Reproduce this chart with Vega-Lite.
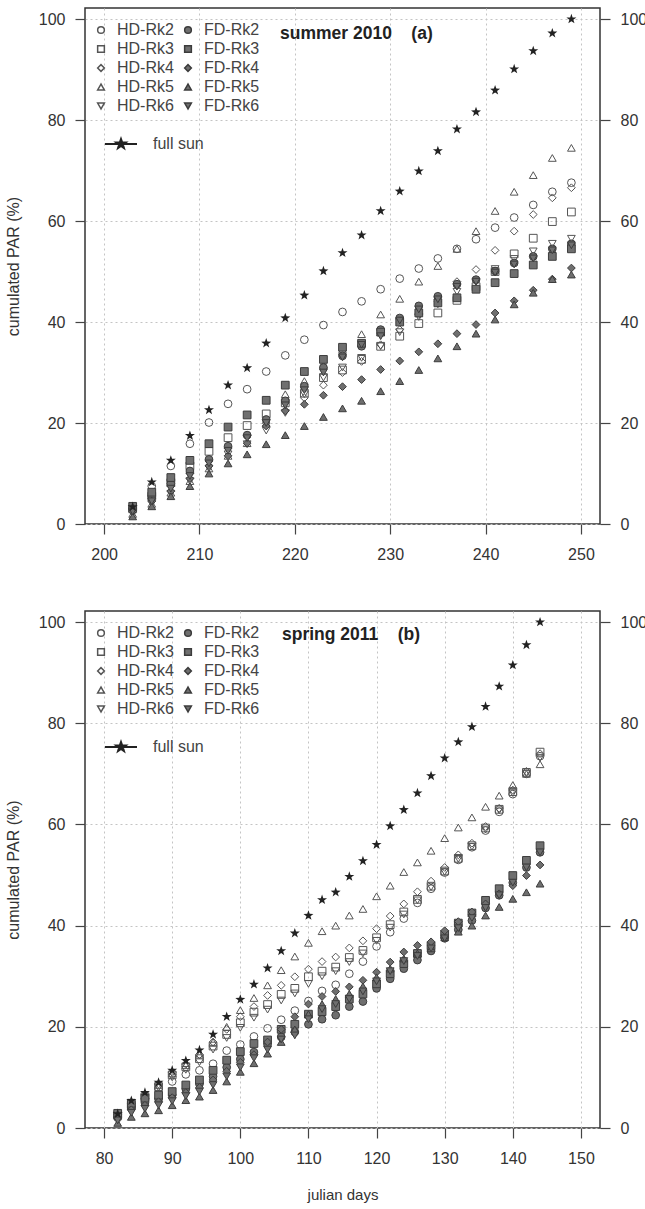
{
"$schema":"https://vega.github.io/schema/vega-lite/v6.json",
"padding":{"left":4,"top":7,"right":0,"bottom":5},
"spacing":47,
"resolve":{"scale":{"shape":"independent","fill":"independent","stroke":"independent","color":"independent"},"legend":{"shape":"independent","fill":"independent","stroke":"independent","color":"independent"}},
"config":{
"font":"Liberation Sans",
"view":{"stroke":"#333","strokeWidth":1.5},
"axis":{"domain":false,"tickColor":"#444","tickWidth":1.2,"tickSize":10,"labelPadding":10,"labelFontSize":16,"labelColor":"#333","labelFlush":false,"titleFontSize":15,"titleFontWeight":"normal","titleColor":"#333","gridColor":"#c4c4c4","gridDash":[2,3],"gridWidth":1},
"title":{"fontSize":17.5,"fontWeight":"bold","color":"#222"},
"legend":{"labelFontSize":16,"labelColor":"#444","padding":0}
},
"data":{"values":[
{"p":"a","s":"full sun","d":203,"v":3.4},{"p":"a","s":"full sun","d":205,"v":8.3},{"p":"a","s":"full sun","d":207,"v":12.6},{"p":"a","s":"full sun","d":209,"v":17.5},{"p":"a","s":"full sun","d":211,"v":22.6},{"p":"a","s":"full sun","d":213,"v":27.5},{"p":"a","s":"full sun","d":215,"v":30.9},{"p":"a","s":"full sun","d":217,"v":35.8},{"p":"a","s":"full sun","d":219,"v":40.8},{"p":"a","s":"full sun","d":221,"v":45.3},{"p":"a","s":"full sun","d":223,"v":50.1},{"p":"a","s":"full sun","d":225,"v":53.7},{"p":"a","s":"full sun","d":227,"v":57.2},{"p":"a","s":"full sun","d":229,"v":62.0},{"p":"a","s":"full sun","d":231,"v":65.9},{"p":"a","s":"full sun","d":233,"v":69.9},{"p":"a","s":"full sun","d":235,"v":73.9},{"p":"a","s":"full sun","d":237,"v":78.2},{"p":"a","s":"full sun","d":239,"v":81.6},{"p":"a","s":"full sun","d":241,"v":85.9},{"p":"a","s":"full sun","d":243,"v":90.1},{"p":"a","s":"full sun","d":245,"v":93.7},{"p":"a","s":"full sun","d":247,"v":97.2},{"p":"a","s":"full sun","d":249,"v":100},
{"p":"a","s":"HD-Rk2","d":203,"v":2.8},{"p":"a","s":"HD-Rk2","d":205,"v":7.5},{"p":"a","s":"HD-Rk2","d":207,"v":11.5},{"p":"a","s":"HD-Rk2","d":209,"v":15.9},{"p":"a","s":"HD-Rk2","d":211,"v":20.1},{"p":"a","s":"HD-Rk2","d":213,"v":23.8},{"p":"a","s":"HD-Rk2","d":215,"v":26.7},{"p":"a","s":"HD-Rk2","d":217,"v":30.2},{"p":"a","s":"HD-Rk2","d":219,"v":33.4},{"p":"a","s":"HD-Rk2","d":221,"v":36.5},{"p":"a","s":"HD-Rk2","d":223,"v":39.4},{"p":"a","s":"HD-Rk2","d":225,"v":42.0},{"p":"a","s":"HD-Rk2","d":227,"v":44.1},{"p":"a","s":"HD-Rk2","d":229,"v":46.5},{"p":"a","s":"HD-Rk2","d":231,"v":48.6},{"p":"a","s":"HD-Rk2","d":233,"v":50.6},{"p":"a","s":"HD-Rk2","d":235,"v":52.6},{"p":"a","s":"HD-Rk2","d":237,"v":54.5},{"p":"a","s":"HD-Rk2","d":239,"v":56.4},{"p":"a","s":"HD-Rk2","d":241,"v":58.7},{"p":"a","s":"HD-Rk2","d":243,"v":60.7},{"p":"a","s":"HD-Rk2","d":245,"v":63.2},{"p":"a","s":"HD-Rk2","d":247,"v":65.8},{"p":"a","s":"HD-Rk2","d":249,"v":67.6},
{"p":"a","s":"HD-Rk3","d":203,"v":3.0},{"p":"a","s":"HD-Rk3","d":205,"v":5.5},{"p":"a","s":"HD-Rk3","d":207,"v":8.2},{"p":"a","s":"HD-Rk3","d":209,"v":11.5},{"p":"a","s":"HD-Rk3","d":211,"v":14.4},{"p":"a","s":"HD-Rk3","d":213,"v":17.1},{"p":"a","s":"HD-Rk3","d":215,"v":19.5},{"p":"a","s":"HD-Rk3","d":217,"v":21.8},{"p":"a","s":"HD-Rk3","d":219,"v":24.0},{"p":"a","s":"HD-Rk3","d":221,"v":25.9},{"p":"a","s":"HD-Rk3","d":223,"v":29.0},{"p":"a","s":"HD-Rk3","d":225,"v":30.5},{"p":"a","s":"HD-Rk3","d":227,"v":32.6},{"p":"a","s":"HD-Rk3","d":229,"v":35.2},{"p":"a","s":"HD-Rk3","d":231,"v":37.2},{"p":"a","s":"HD-Rk3","d":233,"v":39.7},{"p":"a","s":"HD-Rk3","d":235,"v":41.8},{"p":"a","s":"HD-Rk3","d":237,"v":44.3},{"p":"a","s":"HD-Rk3","d":239,"v":47.0},{"p":"a","s":"HD-Rk3","d":241,"v":50.0},{"p":"a","s":"HD-Rk3","d":243,"v":53.5},{"p":"a","s":"HD-Rk3","d":245,"v":56.6},{"p":"a","s":"HD-Rk3","d":247,"v":59.9},{"p":"a","s":"HD-Rk3","d":249,"v":61.8},
{"p":"a","s":"HD-Rk4","d":203,"v":2.5},{"p":"a","s":"HD-Rk4","d":205,"v":5.0},{"p":"a","s":"HD-Rk4","d":207,"v":7.5},{"p":"a","s":"HD-Rk4","d":209,"v":10.0},{"p":"a","s":"HD-Rk4","d":211,"v":12.5},{"p":"a","s":"HD-Rk4","d":213,"v":15.0},{"p":"a","s":"HD-Rk4","d":215,"v":17.5},{"p":"a","s":"HD-Rk4","d":217,"v":20.0},{"p":"a","s":"HD-Rk4","d":219,"v":22.5},{"p":"a","s":"HD-Rk4","d":221,"v":25.0},{"p":"a","s":"HD-Rk4","d":223,"v":27.5},{"p":"a","s":"HD-Rk4","d":225,"v":30.0},{"p":"a","s":"HD-Rk4","d":227,"v":32.2},{"p":"a","s":"HD-Rk4","d":229,"v":35.5},{"p":"a","s":"HD-Rk4","d":231,"v":38.5},{"p":"a","s":"HD-Rk4","d":233,"v":41.5},{"p":"a","s":"HD-Rk4","d":235,"v":44.8},{"p":"a","s":"HD-Rk4","d":237,"v":48.0},{"p":"a","s":"HD-Rk4","d":239,"v":50.4},{"p":"a","s":"HD-Rk4","d":241,"v":54.2},{"p":"a","s":"HD-Rk4","d":243,"v":58.0},{"p":"a","s":"HD-Rk4","d":245,"v":61.3},{"p":"a","s":"HD-Rk4","d":247,"v":64.6},{"p":"a","s":"HD-Rk4","d":249,"v":66.6},
{"p":"a","s":"HD-Rk5","d":203,"v":2.0},{"p":"a","s":"HD-Rk5","d":205,"v":4.0},{"p":"a","s":"HD-Rk5","d":207,"v":6.2},{"p":"a","s":"HD-Rk5","d":209,"v":8.5},{"p":"a","s":"HD-Rk5","d":211,"v":11.0},{"p":"a","s":"HD-Rk5","d":213,"v":13.5},{"p":"a","s":"HD-Rk5","d":215,"v":16.0},{"p":"a","s":"HD-Rk5","d":217,"v":20.0},{"p":"a","s":"HD-Rk5","d":219,"v":25.7},{"p":"a","s":"HD-Rk5","d":221,"v":28.3},{"p":"a","s":"HD-Rk5","d":223,"v":31.5},{"p":"a","s":"HD-Rk5","d":225,"v":34.5},{"p":"a","s":"HD-Rk5","d":227,"v":37.6},{"p":"a","s":"HD-Rk5","d":229,"v":41.5},{"p":"a","s":"HD-Rk5","d":231,"v":44.6},{"p":"a","s":"HD-Rk5","d":233,"v":48.0},{"p":"a","s":"HD-Rk5","d":235,"v":51.1},{"p":"a","s":"HD-Rk5","d":237,"v":54.5},{"p":"a","s":"HD-Rk5","d":239,"v":58.0},{"p":"a","s":"HD-Rk5","d":241,"v":62.0},{"p":"a","s":"HD-Rk5","d":243,"v":65.8},{"p":"a","s":"HD-Rk5","d":245,"v":69.1},{"p":"a","s":"HD-Rk5","d":247,"v":72.5},{"p":"a","s":"HD-Rk5","d":249,"v":74.5},
{"p":"a","s":"HD-Rk6","d":203,"v":2.0},{"p":"a","s":"HD-Rk6","d":205,"v":4.0},{"p":"a","s":"HD-Rk6","d":207,"v":6.0},{"p":"a","s":"HD-Rk6","d":209,"v":8.5},{"p":"a","s":"HD-Rk6","d":211,"v":11.0},{"p":"a","s":"HD-Rk6","d":213,"v":13.8},{"p":"a","s":"HD-Rk6","d":215,"v":15.8},{"p":"a","s":"HD-Rk6","d":217,"v":18.5},{"p":"a","s":"HD-Rk6","d":219,"v":22.0},{"p":"a","s":"HD-Rk6","d":221,"v":25.7},{"p":"a","s":"HD-Rk6","d":223,"v":29.0},{"p":"a","s":"HD-Rk6","d":225,"v":31.0},{"p":"a","s":"HD-Rk6","d":227,"v":32.9},{"p":"a","s":"HD-Rk6","d":229,"v":35.2},{"p":"a","s":"HD-Rk6","d":231,"v":38.0},{"p":"a","s":"HD-Rk6","d":233,"v":41.0},{"p":"a","s":"HD-Rk6","d":235,"v":43.5},{"p":"a","s":"HD-Rk6","d":237,"v":46.0},{"p":"a","s":"HD-Rk6","d":239,"v":48.0},{"p":"a","s":"HD-Rk6","d":241,"v":50.5},{"p":"a","s":"HD-Rk6","d":243,"v":52.5},{"p":"a","s":"HD-Rk6","d":245,"v":54.0},{"p":"a","s":"HD-Rk6","d":247,"v":55.5},{"p":"a","s":"HD-Rk6","d":249,"v":56.5},
{"p":"a","s":"FD-Rk2","d":203,"v":3.0},{"p":"a","s":"FD-Rk2","d":205,"v":5.5},{"p":"a","s":"FD-Rk2","d":207,"v":8.0},{"p":"a","s":"FD-Rk2","d":209,"v":10.5},{"p":"a","s":"FD-Rk2","d":211,"v":12.8},{"p":"a","s":"FD-Rk2","d":213,"v":15.4},{"p":"a","s":"FD-Rk2","d":215,"v":17.6},{"p":"a","s":"FD-Rk2","d":217,"v":20.7},{"p":"a","s":"FD-Rk2","d":219,"v":24.4},{"p":"a","s":"FD-Rk2","d":221,"v":27.3},{"p":"a","s":"FD-Rk2","d":223,"v":31.0},{"p":"a","s":"FD-Rk2","d":225,"v":33.3},{"p":"a","s":"FD-Rk2","d":227,"v":35.2},{"p":"a","s":"FD-Rk2","d":229,"v":38.5},{"p":"a","s":"FD-Rk2","d":231,"v":40.8},{"p":"a","s":"FD-Rk2","d":233,"v":43.2},{"p":"a","s":"FD-Rk2","d":235,"v":45.1},{"p":"a","s":"FD-Rk2","d":237,"v":47.5},{"p":"a","s":"FD-Rk2","d":239,"v":48.4},{"p":"a","s":"FD-Rk2","d":241,"v":50.1},{"p":"a","s":"FD-Rk2","d":243,"v":51.7},{"p":"a","s":"FD-Rk2","d":245,"v":53.0},{"p":"a","s":"FD-Rk2","d":247,"v":54.5},{"p":"a","s":"FD-Rk2","d":249,"v":55.5},
{"p":"a","s":"FD-Rk3","d":203,"v":3.5},{"p":"a","s":"FD-Rk3","d":205,"v":6.3},{"p":"a","s":"FD-Rk3","d":207,"v":9.2},{"p":"a","s":"FD-Rk3","d":209,"v":12.6},{"p":"a","s":"FD-Rk3","d":211,"v":15.9},{"p":"a","s":"FD-Rk3","d":213,"v":19.2},{"p":"a","s":"FD-Rk3","d":215,"v":21.6},{"p":"a","s":"FD-Rk3","d":217,"v":24.5},{"p":"a","s":"FD-Rk3","d":219,"v":27.5},{"p":"a","s":"FD-Rk3","d":221,"v":30.2},{"p":"a","s":"FD-Rk3","d":223,"v":32.6},{"p":"a","s":"FD-Rk3","d":225,"v":35.0},{"p":"a","s":"FD-Rk3","d":227,"v":35.8},{"p":"a","s":"FD-Rk3","d":229,"v":38.0},{"p":"a","s":"FD-Rk3","d":231,"v":40.0},{"p":"a","s":"FD-Rk3","d":233,"v":41.8},{"p":"a","s":"FD-Rk3","d":235,"v":43.8},{"p":"a","s":"FD-Rk3","d":237,"v":44.8},{"p":"a","s":"FD-Rk3","d":239,"v":46.5},{"p":"a","s":"FD-Rk3","d":241,"v":47.8},{"p":"a","s":"FD-Rk3","d":243,"v":49.6},{"p":"a","s":"FD-Rk3","d":245,"v":51.3},{"p":"a","s":"FD-Rk3","d":247,"v":53.0},{"p":"a","s":"FD-Rk3","d":249,"v":54.5},
{"p":"a","s":"FD-Rk4","d":203,"v":2.5},{"p":"a","s":"FD-Rk4","d":205,"v":4.5},{"p":"a","s":"FD-Rk4","d":207,"v":6.5},{"p":"a","s":"FD-Rk4","d":209,"v":9.0},{"p":"a","s":"FD-Rk4","d":211,"v":11.5},{"p":"a","s":"FD-Rk4","d":213,"v":13.5},{"p":"a","s":"FD-Rk4","d":215,"v":16.0},{"p":"a","s":"FD-Rk4","d":217,"v":19.4},{"p":"a","s":"FD-Rk4","d":219,"v":22.4},{"p":"a","s":"FD-Rk4","d":221,"v":23.7},{"p":"a","s":"FD-Rk4","d":223,"v":25.5},{"p":"a","s":"FD-Rk4","d":225,"v":27.2},{"p":"a","s":"FD-Rk4","d":227,"v":28.6},{"p":"a","s":"FD-Rk4","d":229,"v":30.6},{"p":"a","s":"FD-Rk4","d":231,"v":32.3},{"p":"a","s":"FD-Rk4","d":233,"v":34.1},{"p":"a","s":"FD-Rk4","d":235,"v":35.7},{"p":"a","s":"FD-Rk4","d":237,"v":37.7},{"p":"a","s":"FD-Rk4","d":239,"v":39.5},{"p":"a","s":"FD-Rk4","d":241,"v":41.8},{"p":"a","s":"FD-Rk4","d":243,"v":44.2},{"p":"a","s":"FD-Rk4","d":245,"v":46.3},{"p":"a","s":"FD-Rk4","d":247,"v":48.5},{"p":"a","s":"FD-Rk4","d":249,"v":50.7},
{"p":"a","s":"FD-Rk5","d":203,"v":1.5},{"p":"a","s":"FD-Rk5","d":205,"v":3.5},{"p":"a","s":"FD-Rk5","d":207,"v":5.5},{"p":"a","s":"FD-Rk5","d":209,"v":7.5},{"p":"a","s":"FD-Rk5","d":211,"v":10.0},{"p":"a","s":"FD-Rk5","d":213,"v":12.0},{"p":"a","s":"FD-Rk5","d":215,"v":13.8},{"p":"a","s":"FD-Rk5","d":217,"v":15.8},{"p":"a","s":"FD-Rk5","d":219,"v":17.6},{"p":"a","s":"FD-Rk5","d":221,"v":19.4},{"p":"a","s":"FD-Rk5","d":223,"v":21.2},{"p":"a","s":"FD-Rk5","d":225,"v":22.9},{"p":"a","s":"FD-Rk5","d":227,"v":24.4},{"p":"a","s":"FD-Rk5","d":229,"v":26.3},{"p":"a","s":"FD-Rk5","d":231,"v":28.3},{"p":"a","s":"FD-Rk5","d":233,"v":30.5},{"p":"a","s":"FD-Rk5","d":235,"v":32.8},{"p":"a","s":"FD-Rk5","d":237,"v":35.2},{"p":"a","s":"FD-Rk5","d":239,"v":37.7},{"p":"a","s":"FD-Rk5","d":241,"v":40.5},{"p":"a","s":"FD-Rk5","d":243,"v":43.5},{"p":"a","s":"FD-Rk5","d":245,"v":45.8},{"p":"a","s":"FD-Rk5","d":247,"v":48.5},{"p":"a","s":"FD-Rk5","d":249,"v":49.4},
{"p":"a","s":"FD-Rk6","d":203,"v":2.5},{"p":"a","s":"FD-Rk6","d":205,"v":4.5},{"p":"a","s":"FD-Rk6","d":207,"v":7.0},{"p":"a","s":"FD-Rk6","d":209,"v":9.5},{"p":"a","s":"FD-Rk6","d":211,"v":12.0},{"p":"a","s":"FD-Rk6","d":213,"v":14.5},{"p":"a","s":"FD-Rk6","d":215,"v":17.0},{"p":"a","s":"FD-Rk6","d":217,"v":20.0},{"p":"a","s":"FD-Rk6","d":219,"v":23.5},{"p":"a","s":"FD-Rk6","d":221,"v":26.5},{"p":"a","s":"FD-Rk6","d":223,"v":30.0},{"p":"a","s":"FD-Rk6","d":225,"v":33.0},{"p":"a","s":"FD-Rk6","d":227,"v":35.5},{"p":"a","s":"FD-Rk6","d":229,"v":37.2},{"p":"a","s":"FD-Rk6","d":231,"v":40.3},{"p":"a","s":"FD-Rk6","d":233,"v":42.5},{"p":"a","s":"FD-Rk6","d":235,"v":44.5},{"p":"a","s":"FD-Rk6","d":237,"v":47.0},{"p":"a","s":"FD-Rk6","d":239,"v":48.0},{"p":"a","s":"FD-Rk6","d":241,"v":49.8},{"p":"a","s":"FD-Rk6","d":243,"v":51.4},{"p":"a","s":"FD-Rk6","d":245,"v":52.6},{"p":"a","s":"FD-Rk6","d":247,"v":54.2},{"p":"a","s":"FD-Rk6","d":249,"v":55.2},
{"p":"b","s":"full sun","d":82,"v":2.8},{"p":"b","s":"full sun","d":84,"v":5.4},{"p":"b","s":"full sun","d":86,"v":7.0},{"p":"b","s":"full sun","d":88,"v":9.0},{"p":"b","s":"full sun","d":90,"v":11.4},{"p":"b","s":"full sun","d":92,"v":13.3},{"p":"b","s":"full sun","d":94,"v":15.4},{"p":"b","s":"full sun","d":96,"v":18.5},{"p":"b","s":"full sun","d":98,"v":22.0},{"p":"b","s":"full sun","d":100,"v":25.4},{"p":"b","s":"full sun","d":102,"v":28.4},{"p":"b","s":"full sun","d":104,"v":31.6},{"p":"b","s":"full sun","d":106,"v":35.0},{"p":"b","s":"full sun","d":108,"v":38.5},{"p":"b","s":"full sun","d":110,"v":42.0},{"p":"b","s":"full sun","d":112,"v":45.1},{"p":"b","s":"full sun","d":114,"v":46.6},{"p":"b","s":"full sun","d":116,"v":49.7},{"p":"b","s":"full sun","d":118,"v":52.8},{"p":"b","s":"full sun","d":120,"v":56.0},{"p":"b","s":"full sun","d":122,"v":59.7},{"p":"b","s":"full sun","d":124,"v":62.9},{"p":"b","s":"full sun","d":126,"v":66.2},{"p":"b","s":"full sun","d":128,"v":69.6},{"p":"b","s":"full sun","d":130,"v":73.1},{"p":"b","s":"full sun","d":132,"v":76.3},{"p":"b","s":"full sun","d":134,"v":79.3},{"p":"b","s":"full sun","d":136,"v":83.3},{"p":"b","s":"full sun","d":138,"v":87.3},{"p":"b","s":"full sun","d":140,"v":91.5},{"p":"b","s":"full sun","d":142,"v":95.5},{"p":"b","s":"full sun","d":144,"v":100},
{"p":"b","s":"HD-Rk2","d":82,"v":2.0},{"p":"b","s":"HD-Rk2","d":84,"v":4.0},{"p":"b","s":"HD-Rk2","d":86,"v":5.8},{"p":"b","s":"HD-Rk2","d":88,"v":7.8},{"p":"b","s":"HD-Rk2","d":90,"v":9.2},{"p":"b","s":"HD-Rk2","d":92,"v":10.6},{"p":"b","s":"HD-Rk2","d":94,"v":11.4},{"p":"b","s":"HD-Rk2","d":96,"v":12.7},{"p":"b","s":"HD-Rk2","d":98,"v":15.3},{"p":"b","s":"HD-Rk2","d":100,"v":16.5},{"p":"b","s":"HD-Rk2","d":102,"v":18.1},{"p":"b","s":"HD-Rk2","d":104,"v":19.7},{"p":"b","s":"HD-Rk2","d":106,"v":21.4},{"p":"b","s":"HD-Rk2","d":108,"v":23.2},{"p":"b","s":"HD-Rk2","d":110,"v":25.1},{"p":"b","s":"HD-Rk2","d":112,"v":27.1},{"p":"b","s":"HD-Rk2","d":114,"v":28.3},{"p":"b","s":"HD-Rk2","d":116,"v":30.5},{"p":"b","s":"HD-Rk2","d":118,"v":32.9},{"p":"b","s":"HD-Rk2","d":120,"v":35.9},{"p":"b","s":"HD-Rk2","d":122,"v":38.7},{"p":"b","s":"HD-Rk2","d":124,"v":41.4},{"p":"b","s":"HD-Rk2","d":126,"v":44.5},{"p":"b","s":"HD-Rk2","d":128,"v":47.3},{"p":"b","s":"HD-Rk2","d":130,"v":50.5},{"p":"b","s":"HD-Rk2","d":132,"v":53.0},{"p":"b","s":"HD-Rk2","d":134,"v":55.5},{"p":"b","s":"HD-Rk2","d":136,"v":58.8},{"p":"b","s":"HD-Rk2","d":138,"v":62.5},{"p":"b","s":"HD-Rk2","d":140,"v":66.0},{"p":"b","s":"HD-Rk2","d":142,"v":70.0},{"p":"b","s":"HD-Rk2","d":144,"v":73.5},
{"p":"b","s":"HD-Rk3","d":82,"v":2.5},{"p":"b","s":"HD-Rk3","d":84,"v":4.5},{"p":"b","s":"HD-Rk3","d":86,"v":6.2},{"p":"b","s":"HD-Rk3","d":88,"v":8.2},{"p":"b","s":"HD-Rk3","d":90,"v":10.5},{"p":"b","s":"HD-Rk3","d":92,"v":12.1},{"p":"b","s":"HD-Rk3","d":94,"v":13.7},{"p":"b","s":"HD-Rk3","d":96,"v":16.2},{"p":"b","s":"HD-Rk3","d":98,"v":18.5},{"p":"b","s":"HD-Rk3","d":100,"v":20.8},{"p":"b","s":"HD-Rk3","d":102,"v":22.9},{"p":"b","s":"HD-Rk3","d":104,"v":24.4},{"p":"b","s":"HD-Rk3","d":106,"v":26.4},{"p":"b","s":"HD-Rk3","d":108,"v":27.6},{"p":"b","s":"HD-Rk3","d":110,"v":29.9},{"p":"b","s":"HD-Rk3","d":112,"v":31.0},{"p":"b","s":"HD-Rk3","d":114,"v":31.8},{"p":"b","s":"HD-Rk3","d":116,"v":33.7},{"p":"b","s":"HD-Rk3","d":118,"v":35.1},{"p":"b","s":"HD-Rk3","d":120,"v":37.6},{"p":"b","s":"HD-Rk3","d":122,"v":40.2},{"p":"b","s":"HD-Rk3","d":124,"v":42.7},{"p":"b","s":"HD-Rk3","d":126,"v":45.2},{"p":"b","s":"HD-Rk3","d":128,"v":47.8},{"p":"b","s":"HD-Rk3","d":130,"v":50.8},{"p":"b","s":"HD-Rk3","d":132,"v":53.3},{"p":"b","s":"HD-Rk3","d":134,"v":55.8},{"p":"b","s":"HD-Rk3","d":136,"v":59.3},{"p":"b","s":"HD-Rk3","d":138,"v":63.0},{"p":"b","s":"HD-Rk3","d":140,"v":66.5},{"p":"b","s":"HD-Rk3","d":142,"v":70.3},{"p":"b","s":"HD-Rk3","d":144,"v":74.3},
{"p":"b","s":"HD-Rk4","d":82,"v":2.7},{"p":"b","s":"HD-Rk4","d":84,"v":4.8},{"p":"b","s":"HD-Rk4","d":86,"v":6.5},{"p":"b","s":"HD-Rk4","d":88,"v":8.7},{"p":"b","s":"HD-Rk4","d":90,"v":11.0},{"p":"b","s":"HD-Rk4","d":92,"v":12.6},{"p":"b","s":"HD-Rk4","d":94,"v":14.5},{"p":"b","s":"HD-Rk4","d":96,"v":17.0},{"p":"b","s":"HD-Rk4","d":98,"v":19.5},{"p":"b","s":"HD-Rk4","d":100,"v":22.0},{"p":"b","s":"HD-Rk4","d":102,"v":24.0},{"p":"b","s":"HD-Rk4","d":104,"v":26.2},{"p":"b","s":"HD-Rk4","d":106,"v":28.2},{"p":"b","s":"HD-Rk4","d":108,"v":29.9},{"p":"b","s":"HD-Rk4","d":110,"v":31.4},{"p":"b","s":"HD-Rk4","d":112,"v":32.9},{"p":"b","s":"HD-Rk4","d":114,"v":33.8},{"p":"b","s":"HD-Rk4","d":116,"v":35.6},{"p":"b","s":"HD-Rk4","d":118,"v":37.0},{"p":"b","s":"HD-Rk4","d":120,"v":39.4},{"p":"b","s":"HD-Rk4","d":122,"v":41.9},{"p":"b","s":"HD-Rk4","d":124,"v":44.3},{"p":"b","s":"HD-Rk4","d":126,"v":46.7},{"p":"b","s":"HD-Rk4","d":128,"v":48.8},{"p":"b","s":"HD-Rk4","d":130,"v":51.5},{"p":"b","s":"HD-Rk4","d":132,"v":54.0},{"p":"b","s":"HD-Rk4","d":134,"v":56.3},{"p":"b","s":"HD-Rk4","d":136,"v":59.6},{"p":"b","s":"HD-Rk4","d":138,"v":63.2},{"p":"b","s":"HD-Rk4","d":140,"v":66.8},{"p":"b","s":"HD-Rk4","d":142,"v":70.5},{"p":"b","s":"HD-Rk4","d":144,"v":74.0},
{"p":"b","s":"HD-Rk5","d":82,"v":2.5},{"p":"b","s":"HD-Rk5","d":84,"v":5.0},{"p":"b","s":"HD-Rk5","d":86,"v":6.5},{"p":"b","s":"HD-Rk5","d":88,"v":8.5},{"p":"b","s":"HD-Rk5","d":90,"v":10.8},{"p":"b","s":"HD-Rk5","d":92,"v":12.4},{"p":"b","s":"HD-Rk5","d":94,"v":14.5},{"p":"b","s":"HD-Rk5","d":96,"v":17.0},{"p":"b","s":"HD-Rk5","d":98,"v":20.0},{"p":"b","s":"HD-Rk5","d":100,"v":23.3},{"p":"b","s":"HD-Rk5","d":102,"v":25.7},{"p":"b","s":"HD-Rk5","d":104,"v":28.2},{"p":"b","s":"HD-Rk5","d":106,"v":31.2},{"p":"b","s":"HD-Rk5","d":108,"v":33.9},{"p":"b","s":"HD-Rk5","d":110,"v":36.6},{"p":"b","s":"HD-Rk5","d":112,"v":38.9},{"p":"b","s":"HD-Rk5","d":114,"v":40.0},{"p":"b","s":"HD-Rk5","d":116,"v":42.0},{"p":"b","s":"HD-Rk5","d":118,"v":43.3},{"p":"b","s":"HD-Rk5","d":120,"v":45.8},{"p":"b","s":"HD-Rk5","d":122,"v":47.9},{"p":"b","s":"HD-Rk5","d":124,"v":50.6},{"p":"b","s":"HD-Rk5","d":126,"v":52.5},{"p":"b","s":"HD-Rk5","d":128,"v":54.8},{"p":"b","s":"HD-Rk5","d":130,"v":57.3},{"p":"b","s":"HD-Rk5","d":132,"v":59.4},{"p":"b","s":"HD-Rk5","d":134,"v":61.4},{"p":"b","s":"HD-Rk5","d":136,"v":63.5},{"p":"b","s":"HD-Rk5","d":138,"v":65.7},{"p":"b","s":"HD-Rk5","d":140,"v":67.8},{"p":"b","s":"HD-Rk5","d":142,"v":70.0},{"p":"b","s":"HD-Rk5","d":144,"v":71.9},
{"p":"b","s":"HD-Rk6","d":82,"v":2.2},{"p":"b","s":"HD-Rk6","d":84,"v":4.2},{"p":"b","s":"HD-Rk6","d":86,"v":6.0},{"p":"b","s":"HD-Rk6","d":88,"v":8.0},{"p":"b","s":"HD-Rk6","d":90,"v":10.0},{"p":"b","s":"HD-Rk6","d":92,"v":11.5},{"p":"b","s":"HD-Rk6","d":94,"v":13.0},{"p":"b","s":"HD-Rk6","d":96,"v":15.5},{"p":"b","s":"HD-Rk6","d":98,"v":17.8},{"p":"b","s":"HD-Rk6","d":100,"v":19.8},{"p":"b","s":"HD-Rk6","d":102,"v":21.8},{"p":"b","s":"HD-Rk6","d":104,"v":23.4},{"p":"b","s":"HD-Rk6","d":106,"v":25.2},{"p":"b","s":"HD-Rk6","d":108,"v":26.6},{"p":"b","s":"HD-Rk6","d":110,"v":28.5},{"p":"b","s":"HD-Rk6","d":112,"v":30.0},{"p":"b","s":"HD-Rk6","d":114,"v":31.0},{"p":"b","s":"HD-Rk6","d":116,"v":32.8},{"p":"b","s":"HD-Rk6","d":118,"v":34.5},{"p":"b","s":"HD-Rk6","d":120,"v":37.0},{"p":"b","s":"HD-Rk6","d":122,"v":39.6},{"p":"b","s":"HD-Rk6","d":124,"v":42.2},{"p":"b","s":"HD-Rk6","d":126,"v":45.0},{"p":"b","s":"HD-Rk6","d":128,"v":47.6},{"p":"b","s":"HD-Rk6","d":130,"v":50.6},{"p":"b","s":"HD-Rk6","d":132,"v":53.2},{"p":"b","s":"HD-Rk6","d":134,"v":55.6},{"p":"b","s":"HD-Rk6","d":136,"v":59.0},{"p":"b","s":"HD-Rk6","d":138,"v":62.8},{"p":"b","s":"HD-Rk6","d":140,"v":66.2},{"p":"b","s":"HD-Rk6","d":142,"v":70.1},{"p":"b","s":"HD-Rk6","d":144,"v":73.2},
{"p":"b","s":"FD-Rk2","d":82,"v":2.2},{"p":"b","s":"FD-Rk2","d":84,"v":4.0},{"p":"b","s":"FD-Rk2","d":86,"v":5.0},{"p":"b","s":"FD-Rk2","d":88,"v":5.7},{"p":"b","s":"FD-Rk2","d":90,"v":6.5},{"p":"b","s":"FD-Rk2","d":92,"v":7.7},{"p":"b","s":"FD-Rk2","d":94,"v":8.7},{"p":"b","s":"FD-Rk2","d":96,"v":10.2},{"p":"b","s":"FD-Rk2","d":98,"v":12.0},{"p":"b","s":"FD-Rk2","d":100,"v":13.6},{"p":"b","s":"FD-Rk2","d":102,"v":15.0},{"p":"b","s":"FD-Rk2","d":104,"v":16.5},{"p":"b","s":"FD-Rk2","d":106,"v":18.0},{"p":"b","s":"FD-Rk2","d":108,"v":19.0},{"p":"b","s":"FD-Rk2","d":110,"v":20.5},{"p":"b","s":"FD-Rk2","d":112,"v":21.5},{"p":"b","s":"FD-Rk2","d":114,"v":22.3},{"p":"b","s":"FD-Rk2","d":116,"v":24.0},{"p":"b","s":"FD-Rk2","d":118,"v":25.0},{"p":"b","s":"FD-Rk2","d":120,"v":27.6},{"p":"b","s":"FD-Rk2","d":122,"v":29.5},{"p":"b","s":"FD-Rk2","d":124,"v":31.5},{"p":"b","s":"FD-Rk2","d":126,"v":33.2},{"p":"b","s":"FD-Rk2","d":128,"v":35.0},{"p":"b","s":"FD-Rk2","d":130,"v":37.5},{"p":"b","s":"FD-Rk2","d":132,"v":39.2},{"p":"b","s":"FD-Rk2","d":134,"v":41.0},{"p":"b","s":"FD-Rk2","d":136,"v":43.5},{"p":"b","s":"FD-Rk2","d":138,"v":46.0},{"p":"b","s":"FD-Rk2","d":140,"v":48.5},{"p":"b","s":"FD-Rk2","d":142,"v":51.5},{"p":"b","s":"FD-Rk2","d":144,"v":54.5},
{"p":"b","s":"FD-Rk3","d":82,"v":2.9},{"p":"b","s":"FD-Rk3","d":84,"v":4.9},{"p":"b","s":"FD-Rk3","d":86,"v":5.9},{"p":"b","s":"FD-Rk3","d":88,"v":6.5},{"p":"b","s":"FD-Rk3","d":90,"v":7.2},{"p":"b","s":"FD-Rk3","d":92,"v":8.5},{"p":"b","s":"FD-Rk3","d":94,"v":9.5},{"p":"b","s":"FD-Rk3","d":96,"v":11.4},{"p":"b","s":"FD-Rk3","d":98,"v":13.4},{"p":"b","s":"FD-Rk3","d":100,"v":15.1},{"p":"b","s":"FD-Rk3","d":102,"v":16.7},{"p":"b","s":"FD-Rk3","d":104,"v":17.4},{"p":"b","s":"FD-Rk3","d":106,"v":19.5},{"p":"b","s":"FD-Rk3","d":108,"v":20.5},{"p":"b","s":"FD-Rk3","d":110,"v":22.5},{"p":"b","s":"FD-Rk3","d":112,"v":23.0},{"p":"b","s":"FD-Rk3","d":114,"v":24.0},{"p":"b","s":"FD-Rk3","d":116,"v":25.5},{"p":"b","s":"FD-Rk3","d":118,"v":26.5},{"p":"b","s":"FD-Rk3","d":120,"v":28.5},{"p":"b","s":"FD-Rk3","d":122,"v":30.5},{"p":"b","s":"FD-Rk3","d":124,"v":32.5},{"p":"b","s":"FD-Rk3","d":126,"v":34.5},{"p":"b","s":"FD-Rk3","d":128,"v":36.0},{"p":"b","s":"FD-Rk3","d":130,"v":38.3},{"p":"b","s":"FD-Rk3","d":132,"v":40.5},{"p":"b","s":"FD-Rk3","d":134,"v":42.5},{"p":"b","s":"FD-Rk3","d":136,"v":45.0},{"p":"b","s":"FD-Rk3","d":138,"v":47.3},{"p":"b","s":"FD-Rk3","d":140,"v":49.9},{"p":"b","s":"FD-Rk3","d":142,"v":52.9},{"p":"b","s":"FD-Rk3","d":144,"v":55.8},
{"p":"b","s":"FD-Rk4","d":82,"v":2.0},{"p":"b","s":"FD-Rk4","d":84,"v":3.6},{"p":"b","s":"FD-Rk4","d":86,"v":4.5},{"p":"b","s":"FD-Rk4","d":88,"v":5.2},{"p":"b","s":"FD-Rk4","d":90,"v":6.0},{"p":"b","s":"FD-Rk4","d":92,"v":7.0},{"p":"b","s":"FD-Rk4","d":94,"v":8.0},{"p":"b","s":"FD-Rk4","d":96,"v":9.5},{"p":"b","s":"FD-Rk4","d":98,"v":11.2},{"p":"b","s":"FD-Rk4","d":100,"v":13.0},{"p":"b","s":"FD-Rk4","d":102,"v":14.5},{"p":"b","s":"FD-Rk4","d":104,"v":17.0},{"p":"b","s":"FD-Rk4","d":106,"v":19.5},{"p":"b","s":"FD-Rk4","d":108,"v":22.0},{"p":"b","s":"FD-Rk4","d":110,"v":24.5},{"p":"b","s":"FD-Rk4","d":112,"v":26.0},{"p":"b","s":"FD-Rk4","d":114,"v":27.0},{"p":"b","s":"FD-Rk4","d":116,"v":27.9},{"p":"b","s":"FD-Rk4","d":118,"v":29.2},{"p":"b","s":"FD-Rk4","d":120,"v":30.8},{"p":"b","s":"FD-Rk4","d":122,"v":32.8},{"p":"b","s":"FD-Rk4","d":124,"v":34.8},{"p":"b","s":"FD-Rk4","d":126,"v":36.1},{"p":"b","s":"FD-Rk4","d":128,"v":36.8},{"p":"b","s":"FD-Rk4","d":130,"v":39.0},{"p":"b","s":"FD-Rk4","d":132,"v":40.8},{"p":"b","s":"FD-Rk4","d":134,"v":42.7},{"p":"b","s":"FD-Rk4","d":136,"v":44.3},{"p":"b","s":"FD-Rk4","d":138,"v":46.3},{"p":"b","s":"FD-Rk4","d":140,"v":47.9},{"p":"b","s":"FD-Rk4","d":142,"v":49.9},{"p":"b","s":"FD-Rk4","d":144,"v":52.0},
{"p":"b","s":"FD-Rk5","d":82,"v":1.0},{"p":"b","s":"FD-Rk5","d":84,"v":2.2},{"p":"b","s":"FD-Rk5","d":86,"v":2.9},{"p":"b","s":"FD-Rk5","d":88,"v":3.5},{"p":"b","s":"FD-Rk5","d":90,"v":4.5},{"p":"b","s":"FD-Rk5","d":92,"v":5.5},{"p":"b","s":"FD-Rk5","d":94,"v":6.2},{"p":"b","s":"FD-Rk5","d":96,"v":7.5},{"p":"b","s":"FD-Rk5","d":98,"v":9.2},{"p":"b","s":"FD-Rk5","d":100,"v":11.1},{"p":"b","s":"FD-Rk5","d":102,"v":12.8},{"p":"b","s":"FD-Rk5","d":104,"v":14.7},{"p":"b","s":"FD-Rk5","d":106,"v":17.0},{"p":"b","s":"FD-Rk5","d":108,"v":19.5},{"p":"b","s":"FD-Rk5","d":110,"v":22.5},{"p":"b","s":"FD-Rk5","d":112,"v":24.5},{"p":"b","s":"FD-Rk5","d":114,"v":25.5},{"p":"b","s":"FD-Rk5","d":116,"v":26.5},{"p":"b","s":"FD-Rk5","d":118,"v":28.0},{"p":"b","s":"FD-Rk5","d":120,"v":29.8},{"p":"b","s":"FD-Rk5","d":122,"v":31.5},{"p":"b","s":"FD-Rk5","d":124,"v":33.5},{"p":"b","s":"FD-Rk5","d":126,"v":34.5},{"p":"b","s":"FD-Rk5","d":128,"v":35.5},{"p":"b","s":"FD-Rk5","d":130,"v":37.7},{"p":"b","s":"FD-Rk5","d":132,"v":38.8},{"p":"b","s":"FD-Rk5","d":134,"v":40.0},{"p":"b","s":"FD-Rk5","d":136,"v":42.0},{"p":"b","s":"FD-Rk5","d":138,"v":43.7},{"p":"b","s":"FD-Rk5","d":140,"v":45.3},{"p":"b","s":"FD-Rk5","d":142,"v":46.6},{"p":"b","s":"FD-Rk5","d":144,"v":48.3},
{"p":"b","s":"FD-Rk6","d":82,"v":1.5},{"p":"b","s":"FD-Rk6","d":84,"v":3.0},{"p":"b","s":"FD-Rk6","d":86,"v":3.8},{"p":"b","s":"FD-Rk6","d":88,"v":4.5},{"p":"b","s":"FD-Rk6","d":90,"v":5.3},{"p":"b","s":"FD-Rk6","d":92,"v":6.3},{"p":"b","s":"FD-Rk6","d":94,"v":7.2},{"p":"b","s":"FD-Rk6","d":96,"v":8.5},{"p":"b","s":"FD-Rk6","d":98,"v":10.2},{"p":"b","s":"FD-Rk6","d":100,"v":12.0},{"p":"b","s":"FD-Rk6","d":102,"v":13.8},{"p":"b","s":"FD-Rk6","d":104,"v":15.5},{"p":"b","s":"FD-Rk6","d":106,"v":17.5},{"p":"b","s":"FD-Rk6","d":108,"v":18.3},{"p":"b","s":"FD-Rk6","d":110,"v":21.5},{"p":"b","s":"FD-Rk6","d":112,"v":23.5},{"p":"b","s":"FD-Rk6","d":114,"v":24.5},{"p":"b","s":"FD-Rk6","d":116,"v":25.5},{"p":"b","s":"FD-Rk6","d":118,"v":27.0},{"p":"b","s":"FD-Rk6","d":120,"v":29.0},{"p":"b","s":"FD-Rk6","d":122,"v":31.0},{"p":"b","s":"FD-Rk6","d":124,"v":33.0},{"p":"b","s":"FD-Rk6","d":126,"v":34.0},{"p":"b","s":"FD-Rk6","d":128,"v":35.5},{"p":"b","s":"FD-Rk6","d":130,"v":37.5},{"p":"b","s":"FD-Rk6","d":132,"v":39.5},{"p":"b","s":"FD-Rk6","d":134,"v":41.5},{"p":"b","s":"FD-Rk6","d":136,"v":43.5},{"p":"b","s":"FD-Rk6","d":138,"v":46.0},{"p":"b","s":"FD-Rk6","d":140,"v":48.5},{"p":"b","s":"FD-Rk6","d":142,"v":51.5},{"p":"b","s":"FD-Rk6","d":144,"v":54.5}
]},
"vconcat":[
{
"width":515,"height":516,
"title":{"text":"summer 2010\u00a0\u00a0\u00a0\u00a0(a)","frame":"group","anchor":"start","dx":195,"offset":-48,"baseline":"alphabetic"},
"transform":[{"filter":"datum.p == 'a'"}],
"encoding":{"x":{"field":"d","type":"quantitative","scale":{"domain":[198,252],"nice":false,"zero":false},"axis":{"values":[200,210,220,230,240,250],"title":null,"grid":true,"labelPadding":12}}},
"layer":[
{"transform":[{"filter":"datum.s != 'full sun'"}],
"mark":{"type":"point","filled":true,"opacity":1,"size":60,"strokeWidth":1},
"encoding":{
"y":{"field":"v","type":"quantitative","scale":{"domain":[0,102.2],"nice":false,"zero":false},"axis":{"orient":"left","values":[0,20,40,60,80,100],"title":"cumulated PAR (%)","titlePadding":17,"titleFontSize":16,"grid":true}},
"shape":{"field":"s","type":"nominal","scale":{"domain":["HD-Rk2","HD-Rk3","HD-Rk4","HD-Rk5","HD-Rk6","FD-Rk2","FD-Rk3","FD-Rk4","FD-Rk5","FD-Rk6"],"range":["circle","square","diamond","triangle-up","triangle-down","circle","square","diamond","triangle-up","triangle-down"]},"legend":{"title":null,"orient":"none","legendX":8,"legendY":14,"columns":2,"symbolSize":45,"rowPadding":3,"columnPadding":6,"labelOffset":8}},
"fill":{"field":"s","type":"nominal","scale":{"domain":["HD-Rk2","HD-Rk3","HD-Rk4","HD-Rk5","HD-Rk6","FD-Rk2","FD-Rk3","FD-Rk4","FD-Rk5","FD-Rk6"],"range":["transparent","transparent","transparent","transparent","transparent","#6f6f6f","#6f6f6f","#6f6f6f","#6f6f6f","#6f6f6f"]},"legend":{"title":null,"orient":"none","legendX":8,"legendY":14,"columns":2,"symbolSize":45,"rowPadding":3,"columnPadding":6,"labelOffset":8}},
"stroke":{"field":"s","type":"nominal","scale":{"domain":["HD-Rk2","HD-Rk3","HD-Rk4","HD-Rk5","HD-Rk6","FD-Rk2","FD-Rk3","FD-Rk4","FD-Rk5","FD-Rk6"],"range":["#555555","#555555","#555555","#555555","#555555","#3c3c3c","#3c3c3c","#3c3c3c","#3c3c3c","#3c3c3c"]},"legend":{"title":null,"orient":"none","legendX":8,"legendY":14,"columns":2,"symbolSize":45,"rowPadding":3,"columnPadding":6,"labelOffset":8}}
}},
{"transform":[{"filter":"datum.s == 'full sun'"}],
"mark":{"type":"point","filled":true,"opacity":1,"size":110,"shape":"M0,-1L0.235,-0.324L0.951,-0.309L0.380,0.124L0.588,0.809L0,0.4L-0.588,0.809L-0.380,0.124L-0.951,-0.309L-0.235,-0.324Z"},
"encoding":{
"y":{"field":"v","type":"quantitative","axis":{"orient":"right","values":[0,20,40,60,80,100],"title":null,"grid":false}},
"color":{"field":"s","type":"nominal","scale":{"range":["#222222"]},"legend":{"title":null,"orient":"none","legendX":28,"legendY":128,"symbolType":"M-3.2,0L3.2,0M0,-1L0.235,-0.324L0.951,-0.309L0.380,0.124L0.588,0.809L0,0.4L-0.588,0.809L-0.380,0.124L-0.951,-0.309L-0.235,-0.324Z","symbolSize":100,"symbolStrokeColor":"#222222","symbolStrokeWidth":2,"labelOffset":24}}
}}
],
"resolve":{"axis":{"y":"independent"}}
},
{
"width":515,"height":517,
"title":{"text":"spring 2011\u00a0\u00a0\u00a0\u00a0(b)","frame":"group","anchor":"start","dx":197,"offset":-46,"baseline":"alphabetic"},
"transform":[{"filter":"datum.p == 'b'"}],
"encoding":{"x":{"field":"d","type":"quantitative","scale":{"domain":[77.2,152.8],"nice":false,"zero":false},"axis":{"values":[80,90,100,110,120,130,140,150],"title":"julian days","titlePadding":21,"grid":true,"labelPadding":12}}},
"layer":[
{"transform":[{"filter":"datum.s != 'full sun'"}],
"mark":{"type":"point","filled":true,"opacity":1,"size":60,"strokeWidth":1},
"encoding":{
"y":{"field":"v","type":"quantitative","scale":{"domain":[0,102.2],"nice":false,"zero":false},"axis":{"orient":"left","values":[0,20,40,60,80,100],"title":"cumulated PAR (%)","titlePadding":17,"titleFontSize":16,"grid":true}},
"shape":{"field":"s","type":"nominal","scale":{"domain":["HD-Rk2","HD-Rk3","HD-Rk4","HD-Rk5","HD-Rk6","FD-Rk2","FD-Rk3","FD-Rk4","FD-Rk5","FD-Rk6"],"range":["circle","square","diamond","triangle-up","triangle-down","circle","square","diamond","triangle-up","triangle-down"]},"legend":{"title":null,"orient":"none","legendX":8,"legendY":14,"columns":2,"symbolSize":45,"rowPadding":3,"columnPadding":6,"labelOffset":8}},
"fill":{"field":"s","type":"nominal","scale":{"domain":["HD-Rk2","HD-Rk3","HD-Rk4","HD-Rk5","HD-Rk6","FD-Rk2","FD-Rk3","FD-Rk4","FD-Rk5","FD-Rk6"],"range":["transparent","transparent","transparent","transparent","transparent","#6f6f6f","#6f6f6f","#6f6f6f","#6f6f6f","#6f6f6f"]},"legend":{"title":null,"orient":"none","legendX":8,"legendY":14,"columns":2,"symbolSize":45,"rowPadding":3,"columnPadding":6,"labelOffset":8}},
"stroke":{"field":"s","type":"nominal","scale":{"domain":["HD-Rk2","HD-Rk3","HD-Rk4","HD-Rk5","HD-Rk6","FD-Rk2","FD-Rk3","FD-Rk4","FD-Rk5","FD-Rk6"],"range":["#555555","#555555","#555555","#555555","#555555","#3c3c3c","#3c3c3c","#3c3c3c","#3c3c3c","#3c3c3c"]},"legend":{"title":null,"orient":"none","legendX":8,"legendY":14,"columns":2,"symbolSize":45,"rowPadding":3,"columnPadding":6,"labelOffset":8}}
}},
{"transform":[{"filter":"datum.s == 'full sun'"}],
"mark":{"type":"point","filled":true,"opacity":1,"size":110,"shape":"M0,-1L0.235,-0.324L0.951,-0.309L0.380,0.124L0.588,0.809L0,0.4L-0.588,0.809L-0.380,0.124L-0.951,-0.309L-0.235,-0.324Z"},
"encoding":{
"y":{"field":"v","type":"quantitative","axis":{"orient":"right","values":[0,20,40,60,80,100],"title":null,"grid":false}},
"color":{"field":"s","type":"nominal","scale":{"range":["#222222"]},"legend":{"title":null,"orient":"none","legendX":28,"legendY":128,"symbolType":"M-3.2,0L3.2,0M0,-1L0.235,-0.324L0.951,-0.309L0.380,0.124L0.588,0.809L0,0.4L-0.588,0.809L-0.380,0.124L-0.951,-0.309L-0.235,-0.324Z","symbolSize":100,"symbolStrokeColor":"#222222","symbolStrokeWidth":2,"labelOffset":24}}
}}
],
"resolve":{"axis":{"y":"independent"}}
}
]
}
